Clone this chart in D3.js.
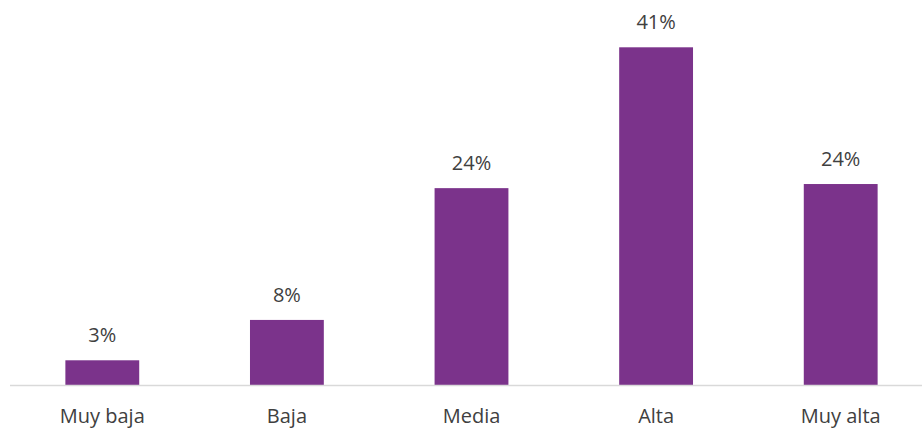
<!DOCTYPE html>
<html>
<head>
<meta charset="utf-8">
<script src="https://cdn.jsdelivr.net/npm/d3@7"></script>
<style>
  html, body { margin: 0; padding: 0; background: #fff; }
  svg { display: block; }
  text { font-family: "Open Sans", Lato, sans-serif; fill: #404040; }
</style>
</head>
<body>
<svg id="chart" width="922" height="428"></svg>
<script>
const categories = ["Muy baja", "Baja", "Media", "Alta", "Muy alta"];
const values = [3.0, 7.9, 23.9, 41.0, 24.4];
const valueLabels = ["3%", "8%", "24%", "41%", "24%"];

const svg = d3.select("#chart");
const baseline = 385;

const x = d3.scaleBand().domain(categories).range([10, 933]).paddingInner(0.6).paddingOuter(0.3);
const y = d3.scaleLinear().domain([0, 41]).range([baseline, 47.3]);

const data = categories.map((c, i) => ({ c, v: values[i], label: valueLabels[i] }));

svg.selectAll("rect.bar").data(data).join("rect")
  .attr("class", "bar")
  .attr("x", d => x(d.c))
  .attr("width", x.bandwidth())
  .attr("y", d => y(d.v))
  .attr("height", d => baseline - y(d.v))
  .attr("fill", "#7b338b");

svg.append("line")
  .attr("x1", 10).attr("x2", 922)
  .attr("y1", baseline + 0.5).attr("y2", baseline + 0.5)
  .attr("stroke", "#d9d9d9").attr("stroke-width", 1.5);

svg.selectAll("text.val").data(data).join("text")
  .attr("class", "val")
  .attr("x", d => x(d.c) + x.bandwidth() / 2)
  .attr("y", d => y(d.v) - 18)
  .attr("text-anchor", "middle")
  .attr("font-size", 20)
  .text(d => d.label);

svg.selectAll("text.cat").data(data).join("text")
  .attr("class", "cat")
  .attr("x", d => x(d.c) + x.bandwidth() / 2)
  .attr("y", 423)
  .attr("text-anchor", "middle")
  .attr("font-size", 20)
  .text(d => d.c);
</script>
</body>
</html>
